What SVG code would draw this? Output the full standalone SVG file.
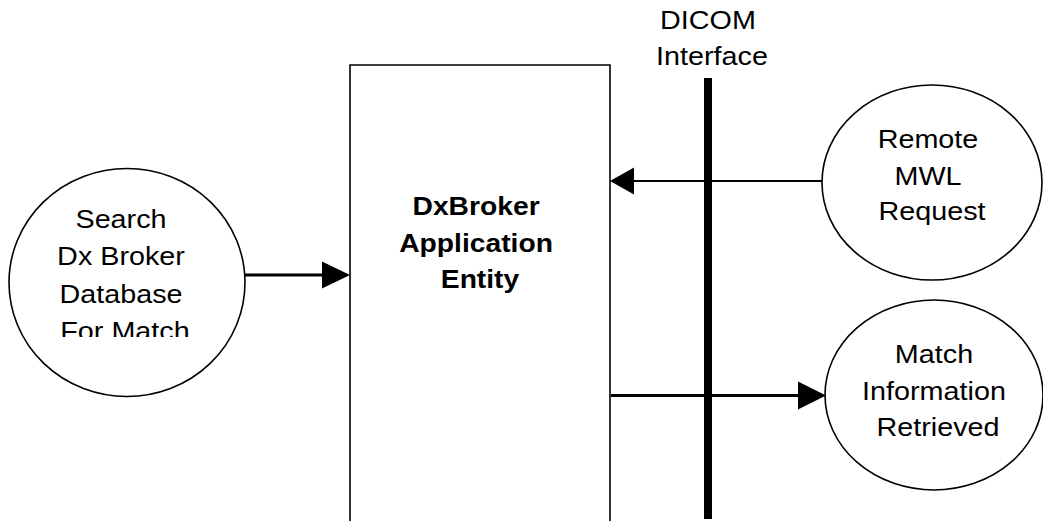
<svg xmlns="http://www.w3.org/2000/svg" width="1043" height="521" viewBox="0 0 1043 521">
<style>
.shape{fill:#fff;stroke:#000;stroke-width:1.6}
.t{font-family:"Liberation Sans",Arial,Helvetica,sans-serif;font-size:25px;text-anchor:middle;fill:#000}
.b{font-weight:bold}
.ln{stroke:#000;fill:none}
.hd{fill:#000;stroke:none}
</style>
<defs>
<clipPath id="clipL"><rect x="0" y="0" width="360" height="337"/></clipPath>
</defs>
<rect x="0" y="0" width="1043" height="521" fill="#fff"/>

<g id="search-node">
<ellipse class="shape" cx="127" cy="282.5" rx="118" ry="114"/>
<g clip-path="url(#clipL)">
<text class="t" transform="matrix(1.15 0 0 1 125 0)">
<tspan x="0" y="228">Search</tspan>
<tspan x="0" y="265.5">Dx Broker</tspan>
<tspan x="0" y="303">Database</tspan>
<tspan x="0" y="340.5">For Match</tspan>
</text>
</g>
</g>

<g id="dxbroker-ae">
<path class="shape" d="M350,530 V65 H610 V530"/>
<text class="t b" transform="matrix(1.13 0 0 1 480 0)">
<tspan x="0" y="215">DxBroker</tspan>
<tspan x="0" y="252">Application</tspan>
<tspan x="0" y="288">Entity</tspan>
</text>
</g>

<g id="dicom-interface">
<rect x="704" y="78" width="8" height="441" fill="#000"/>
<text class="t" transform="matrix(1.15 0 0 1 712 0)">
<tspan x="0" y="29">DICOM</tspan>
<tspan x="0" y="65.5">Interface</tspan>
</text>
</g>

<g id="remote-mwl">
<ellipse class="shape" cx="932" cy="182.5" rx="110" ry="97.5"/>
<text class="t" transform="matrix(1.15 0 0 1 932 0)">
<tspan x="0" y="148">Remote</tspan>
<tspan x="0" y="185">MWL</tspan>
<tspan x="0" y="220">Request</tspan>
</text>
</g>

<g id="match-info">
<ellipse class="shape" cx="934" cy="395" rx="109" ry="95"/>
<text class="t" transform="matrix(1.15 0 0 1 938 0)">
<tspan x="0" y="363">Match</tspan>
<tspan x="0" y="400">Information</tspan>
<tspan x="0" y="436.5">Retrieved</tspan>
</text>
</g>

<g id="connectors">
<line class="ln" x1="245" y1="275" x2="323" y2="275" stroke-width="3"/>
<polygon class="hd" points="322,261.5 350,275 322,288.5"/>
<line class="ln" x1="822" y1="181" x2="632" y2="181" stroke-width="2"/>
<polygon class="hd" points="634,167.5 610,181 634,194.5"/>
<line class="ln" x1="611" y1="395.5" x2="800" y2="395.5" stroke-width="3"/>
<polygon class="hd" points="798,381.5 826,395.5 798,409.5"/>
</g>
</svg>
